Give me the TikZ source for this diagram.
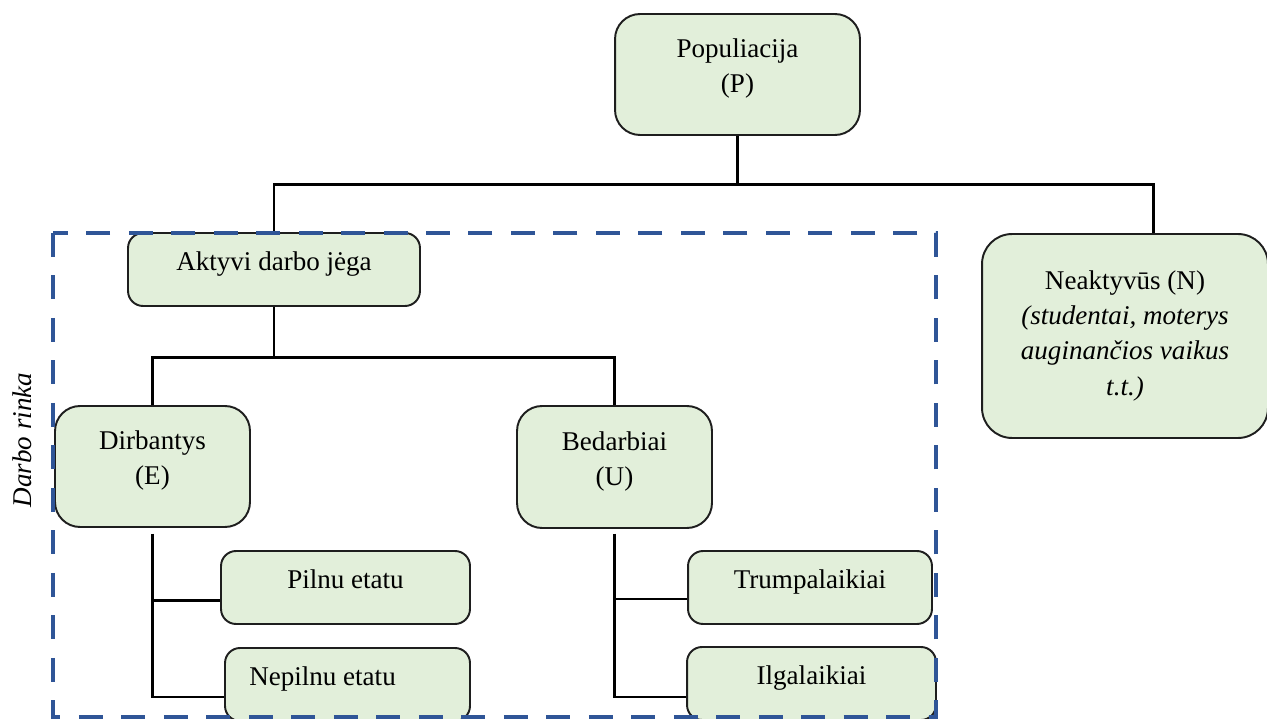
\documentclass[tikz,border=0pt]{standalone}
\usepackage{fontspec}
\setmainfont{Liberation Serif}
\usepackage{tikz}
\usepackage{xcolor}
\definecolor{boxfill}{HTML}{E2EFDA}
\definecolor{boxline}{HTML}{1E1E1E}
\definecolor{rinka}{HTML}{2F5597}

\begin{document}
\begin{tikzpicture}[x=0.02cm,y=-0.02cm]
\tikzset{
    b1/.style={%
        draw=boxline, line width=1.1pt,
        fill=boxfill,
        rectangle,
        rounded corners=0.5cm,
        align=center,
        text depth=10pt,
        font=\fontsize{15.4}{20}\selectfont
        },
    b2/.style={%
        b1,
        rounded corners=0.3cm,
        text depth=9pt,
        minimum height=1.46cm
        },
    link/.style={line width=1.7pt, black},
}
\clip (0,0) rectangle (1267,719);
%%%BOXES
\node[b1, minimum width=4.9cm, minimum height=2.42cm] (pop) at (737.5,74.5) {Populiacija\\(P)};
\node[b2, minimum width=5.84cm] (akt) at (274,269.5) {Aktyvi darbo jėga};
\node[b1, rounded corners=0.6cm, text depth=3.5pt, minimum width=5.72cm, minimum height=4.08cm] (neakt) at (1125,336)
    {Neaktyvūs (N)\\\textit{(studentai, moterys}\\\textit{auginančios vaikus}\\\textit{t.t.)}};
\node[b1, minimum width=3.9cm, minimum height=2.42cm] (dirb) at (152.5,466.5) {Dirbantys\\(E)};
\node[b1, minimum width=3.9cm, minimum height=2.44cm] (bed) at (614.5,467) {Bedarbiai\\(U)};
\node[b2, minimum width=4.98cm] (piln) at (345.5,587.5) {Pilnu etatu};
\node[b2, minimum width=4.9cm] (nepiln) at (347.5,684.5) {Nepilnu etatu\hspace{1cm}};
\node[b2, minimum width=4.88cm] (trump) at (810,587.5) {Trumpalaikiai};
\node[b2, minimum width=4.98cm] (ilg) at (811.5,683.5) {Ilgalaikiai};
%%%CONNECTIONS
\draw[link] (pop.south) -- ++(0,49) -| (akt.north);
\draw[link] (pop.south) -- ++(0,49) -| ([xshift=0.56cm]neakt.north);
\draw[link] (akt.south) -- ++(0,51) -| (dirb.north);
\draw[link] (akt.south) -- ++(0,51) -| (bed.north);
\draw[link] ([yshift=-0.12cm]dirb.south) |- ([yshift=-0.26cm]piln.west);
\draw[link] ([yshift=-0.12cm]dirb.south) |- ([yshift=-0.25cm]nepiln.west);
\draw[link] ([yshift=-0.1cm]bed.south) |- ([yshift=-0.23cm]trump.west);
\draw[link] ([yshift=-0.1cm]bed.south) |- ([yshift=-0.27cm]ilg.west);
%%%DARBO RINKA
\draw[rinka, line width=2.8pt, dash pattern=on 0.48cm off 0.37cm] (53,233) rectangle (936,717);
\node[rotate=90, font=\fontsize{15.4}{20}\selectfont\itshape] (rinka) at (22,440) {Darbo rinka};
\end{tikzpicture}
\end{document}
